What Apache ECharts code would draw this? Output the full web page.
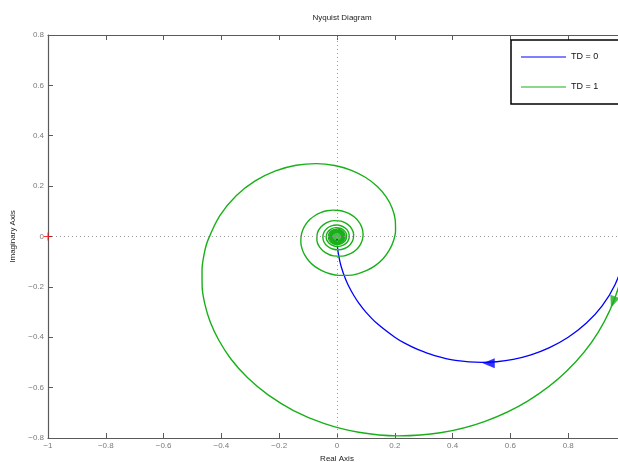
<!DOCTYPE html>
<html>
<head>
<meta charset="utf-8">
<script src="https://cdn.jsdelivr.net/npm/echarts@6/dist/echarts.min.js"></script>
<style>
html,body{margin:0;padding:0;background:#fff;}
#chart{width:618px;height:462px;}
</style>
</head>
<body>
<div id="chart"></div>
<script>
// ---- data ----
var seriesNames = ['TD = 0', 'TD = 1'];
var xTicks = [-1, -0.8, -0.6, -0.4, -0.2, 0, 0.2, 0.4, 0.6, 0.8, 1];
var yTicks = [-0.8, -0.6, -0.4, -0.2, 0, 0.2, 0.4, 0.6, 0.8];

// TD = 0 (blue)
var blueRe = [1, 0.9901, 0.9615, 0.9174, 0.8621, 0.8, 0.7353, 0.6711, 0.6098, 0.5525, 0.5, 0.4098, 0.3378, 0.2809, 0.2358, 0.2, 0.1379, 0.1, 0.0755, 0.0588, 0.0385, 0.0270, 0.0154, 0.0099, 0.0044, 0.0025, 0.0011, 0.0004, 0.0001];
var blueIm = [0, -0.0990, -0.1923, -0.2752, -0.3448, -0.4, -0.4412, -0.4698, -0.4878, -0.4972, -0.5, -0.4918, -0.4730, -0.4494, -0.4245, -0.4, -0.3448, -0.3, -0.2642, -0.2353, -0.1923, -0.1622, -0.1231, -0.0990, -0.0664, -0.0499, -0.0333, -0.0200, -0.0100];

// TD = 1 (green spiral)
var greenRe = [1, 0.9752, 0.9042, 0.7951, 0.6597, 0.5098, 0.3577, 0.2108, 0.0750, -0.0460, -0.1505, -0.2384, -0.3101, -0.3664, -0.4079, -0.4386, -0.4574, -0.4666, -0.4670, -0.4601, -0.4469,
  -0.4053, -0.3489, -0.2832, -0.2127, -0.1413, -0.0722, -0.0078, 0.0499, 0.0993, 0.1396, 0.1701, 0.1906, 0.2012, 0.2026, 0.1953, 0.1805, 0.1594, 0.1332, 0.1034, 0.0713, 0.0383, 0.0059,
  -0.0248, -0.0527, -0.0769, -0.0965, -0.1114, -0.1209, -0.1251, -0.1240, -0.1181, -0.1076, -0.0933, -0.0760, -0.0564, -0.0353, -0.0138, 0.0074, 0.0274, 0.0455, 0.0612, 0.0737, 0.0829,
  0.0884, 0.0902, 0.0883, 0.0830, 0.0746, 0.0635, 0.0502, 0.0197, -0.0121, -0.0400, -0.0601, -0.0697, -0.0680, -0.0558, -0.0356, -0.0110, 0.0142, 0.0359, 0.0511, 0.0575, 0.0548, 0.0437,
  0.0262, 0.0055, -0.0153, -0.0328, -0.0446, -0.0489, -0.0455, -0.0350, -0.0196, -0.0017, 0.0159, 0.0304, 0.0396, 0.0424, 0.0385, 0.0287, 0.0147, -0.0011, -0.0196, -0.0327, -0.0375,
  -0.0330, -0.0207, -0.0039, 0.0133, 0.0267, 0.0332, 0.0314, 0.0222, 0.0079, -0.0079, -0.0213, -0.0291, -0.0296, -0.0230, -0.0110, 0.0033, 0.0164, 0.0252, 0.0276, 0.0233, 0.0135, 0.0007,
  -0.0120, -0.0214, -0.0254, -0.0232, -0.0154, -0.0040, 0.0080, 0.0178, 0.0230, 0.0226, 0.0167, 0.0069, -0.0044, -0.0143, -0.0206, -0.0217, -0.0175, -0.0092, 0.0012, 0.0111, 0.0180, 0.0205,
  0.0143, -0.0003, -0.0143, -0.0193, -0.0126, 0.0014, 0.0142, 0.0180, 0.0111, -0.0023, -0.0140, -0.0170, -0.0096, 0.0032, 0.0138, 0.0159];
var greenIm = [0, -0.1974, -0.3795, -0.5341, -0.6534, -0.7348, -0.7794, -0.7916, -0.7773, -0.7419, -0.6909, -0.6290, -0.5601, -0.4873, -0.4140, -0.3395, -0.2677, -0.1986, -0.1332, -0.0720, -0.0154,
  0.0833, 0.1619, 0.2207, 0.2605, 0.2829, 0.2894, 0.2821, 0.2629, 0.2343, 0.1983, 0.1572, 0.1132, 0.0681, 0.0239, -0.0177, -0.0554, -0.0880, -0.1147, -0.1349, -0.1481, -0.1545, -0.1543,
  -0.1477, -0.1356, -0.1187, -0.0981, -0.0743, -0.0490, -0.0229, 0.0027, 0.0270, 0.0490, 0.0681, 0.0835, 0.0949, 0.1021, 0.1049, 0.1033, 0.0977, 0.0885, 0.0761, 0.0610, 0.0442,
  0.0262, 0.0078, -0.0102, -0.0272, -0.0426, -0.0556, -0.0661, -0.0780, -0.0770, -0.0641, -0.0420, -0.0148, 0.0133, 0.0378, 0.0552, 0.0631, 0.0608, 0.0492, 0.0304, 0.0083, -0.0150, -0.0343,
  -0.0476, -0.0529, -0.0497, -0.0390, -0.0227, -0.0034, 0.0157, 0.0315, 0.0419, 0.0454, 0.0417, 0.0315, 0.0169, 0.0002, -0.0161, -0.0293, -0.0375, -0.0397, -0.0336, -0.0197, -0.0015,
  0.0163, 0.0296, 0.0353, 0.0322, 0.0214, 0.0060, -0.0105, -0.0239, -0.0310, -0.0305, -0.0227, -0.0095, 0.0055, 0.0187, 0.0270, 0.0286, 0.0232, 0.0123, -0.0012, -0.0141, -0.0233, -0.0265,
  -0.0233, -0.0145, -0.0024, 0.0099, 0.0196, 0.0243, 0.0229, 0.0161, 0.0056, -0.0062, -0.0160, -0.0218, -0.0222, -0.0172, -0.0081, 0.0027, 0.0126, 0.0193, 0.0212, 0.0178, 0.0102, 0.0003,
  -0.0143, -0.0199, -0.0134, 0.0009, 0.0142, 0.0186, 0.0117, -0.0019, -0.0141, -0.0174, -0.0103, 0.0028, 0.0139, 0.0164, 0.0090, -0.0036];

// direction arrows and the critical point
var blueArrowRe = [0.525], blueArrowIm = [-0.503];
var greenArrowRe = [0.955], greenArrowIm = [-0.26];
var criticalRe = [-1], criticalIm = [0];
var blobRe = [0], blobIm = [0];

function zip(a, b) { return a.map(function (v, i) { return [v, b[i]]; }); }
function fmt(v) {
  var r = Math.round(v * 10) / 10;
  return r < 0 ? '\u2212' + Math.abs(r) : String(r);
}

var BLUE = '#0000ff', GREEN = '#18b018';
var AX = '#5a5a5a', LAB = '#7a7a7a';
var FONT = 'Liberation Sans, Arial, sans-serif';

var chart = echarts.init(document.getElementById('chart'), null, { renderer: 'canvas' });
chart.setOption({
  animation: false,
  backgroundColor: '#fff',
  title: {
    text: 'Nyquist Diagram', left: 337, top: 9, textAlign: 'center',
    textStyle: { fontFamily: FONT, fontSize: 8, fontWeight: 'normal', color: '#222' }
  },
  legend: {
    data: seriesNames, orient: 'vertical', left: 511, top: 40,
    icon: 'rect', itemWidth: 45, itemHeight: 1.2, itemGap: 20,
    padding: [12, 40, 12, 10],
    borderColor: '#000', borderWidth: 1.5, backgroundColor: '#fff',
    textStyle: { fontFamily: FONT, fontSize: 9, color: '#111', lineHeight: 10 }
  },
  grid: { left: 48, top: 35, width: 578, height: 403, containLabel: false, outerBoundsMode: 'none' },
  xAxis: [{
    type: 'value', min: xTicks[0], max: xTicks[xTicks.length - 1], interval: 0.2,
    name: 'Real Axis', nameLocation: 'middle', nameGap: 15,
    nameTextStyle: { fontFamily: FONT, fontSize: 8, color: '#222' },
    axisLine: { onZero: false, lineStyle: { color: AX, width: 1.2 } },
    axisTick: { inside: true, length: 5, lineStyle: { color: AX } },
    axisLabel: { margin: 4, fontFamily: FONT, fontSize: 8, color: LAB, formatter: fmt },
    splitLine: { show: false }
  }, {
    type: 'value', position: 'top', min: xTicks[0], max: xTicks[xTicks.length - 1], interval: 0.2,
    axisLine: { onZero: false, lineStyle: { color: AX, width: 1.2 } },
    axisTick: { inside: true, length: 5, lineStyle: { color: AX } },
    axisLabel: { show: false }, splitLine: { show: false }
  }],
  yAxis: {
    type: 'value', min: yTicks[0], max: yTicks[yTicks.length - 1], interval: 0.2,
    name: 'Imaginary Axis', nameLocation: 'middle', nameGap: 31,
    nameTextStyle: { fontFamily: FONT, fontSize: 8, color: '#222' },
    axisLine: { show: true, onZero: false, lineStyle: { color: AX, width: 1.2 } },
    axisTick: { show: true, inside: true, length: 5, lineStyle: { color: AX } },
    axisLabel: { margin: 4, fontFamily: FONT, fontSize: 8, color: LAB, formatter: fmt },
    splitLine: { show: false }
  },
  series: [
    {
      name: 'zero', type: 'line', data: [], silent: true,
      markLine: {
        silent: true, symbol: 'none', label: { show: false },
        lineStyle: { type: [1, 3], color: '#999', width: 1 },
        data: [{ xAxis: 0 }, { yAxis: 0 }]
      }
    },
    {
      name: seriesNames[0], type: 'line', data: zip(blueRe, blueIm),
      showSymbol: false, smooth: 0.3, lineStyle: { color: BLUE, width: 1.3 }, itemStyle: { color: BLUE }
    },
    {
      name: seriesNames[1], type: 'line', data: zip(greenRe, greenIm),
      showSymbol: false, smooth: 0.3, lineStyle: { color: GREEN, width: 1.4 }, itemStyle: { color: GREEN }
    },
    {
      name: 'blob', type: 'scatter', data: zip(blobRe, blobIm), symbol: 'circle', symbolSize: 10,
      itemStyle: { color: GREEN }, silent: true
    },
    {
      name: 'arrowB', type: 'scatter', data: zip(blueArrowRe, blueArrowIm),
      symbol: 'triangle', symbolSize: [10, 12], symbolRotate: 90,
      itemStyle: { color: BLUE }, silent: true
    },
    {
      name: 'arrowG', type: 'scatter', data: zip(greenArrowRe, greenArrowIm),
      symbol: 'triangle', symbolSize: [10, 12], symbolRotate: 160,
      itemStyle: { color: GREEN }, silent: true
    },
    {
      name: 'crit', type: 'scatter', data: zip(criticalRe, criticalIm),
      symbol: 'path://M0,4.4h10v1.2h-10z M4.4,0h1.2v10h-1.2z', symbolSize: 8,
      itemStyle: { color: '#ff0000' }, silent: true, z: 5
    }
  ]
});
</script>
</body>
</html>
